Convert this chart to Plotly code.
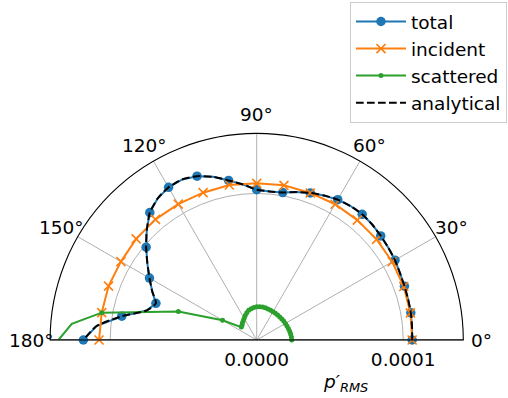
import math
import plotly.graph_objects as go

# Polar angles (degrees) and pressure amplitudes (Pa)
theta_fine = [0, 5, 10, 15, 20, 25, 30, 35, 40, 45, 50, 55, 60, 65, 70, 75, 80, 85, 90,
              95, 100, 105, 110, 115, 120, 125, 130, 135, 140, 145, 150, 155, 160, 165,
              170, 175, 180]
total = [1.061, 1.064, 1.068, 1.070, 1.073, 1.079, 1.090, 1.097, 1.105, 1.115, 1.120,
         1.116, 1.106, 1.088, 1.068, 1.045, 1.022, 1.018, 1.026, 1.065, 1.106, 1.153,
         1.190, 1.208, 1.203, 1.179, 1.135, 1.061, 0.985, 0.911, 0.845, 0.787, 0.732,
         0.778, 0.935, 1.097, 1.183]
analytical = [1.061, 1.064, 1.068, 1.070, 1.073, 1.079, 1.090, 1.097, 1.105, 1.115, 1.120,
              1.116, 1.106, 1.088, 1.068, 1.045, 1.022, 1.018, 1.026, 1.065, 1.106, 1.153,
              1.190, 1.208, 1.203, 1.179, 1.135, 1.061, 0.985, 0.911, 0.845, 0.787, 0.732,
              0.778, 0.935, 1.097, 1.183]

theta_coarse = [0, 10, 20, 30, 40, 50, 60, 70, 80, 90, 100, 110, 120, 130, 140, 150,
                160, 170, 180]
incident = [1.061, 1.065, 1.068, 1.068, 1.068, 1.068, 1.070, 1.068, 1.072, 1.069, 1.074,
            1.070, 1.071, 1.075, 1.074, 1.070, 1.076, 1.074, 1.076]

theta_scat = [0, 5, 10, 15, 20, 25, 30, 35, 40, 45, 50, 55, 60, 65, 70, 75, 80, 85, 90,
              95, 100, 105, 110, 115, 120, 125, 130, 135, 140, 150, 160, 170, 175, 180]
scattered = [0.239, 0.238, 0.235, 0.233, 0.230, 0.228, 0.226, 0.225, 0.224, 0.223, 0.222,
             0.222, 0.223, 0.224, 0.225, 0.227, 0.228, 0.228, 0.227, 0.222, 0.216, 0.210,
             0.198, 0.185, 0.171, 0.160, 0.152, 0.142, 0.137, 0.269, 0.569, 1.074, 1.267,
             1.353]
scat_marked = [True] * 32 + [False, False]

SCALE = 1e-4
R_MAX = 1.41e-4
radial_ticks = [0.0, 1e-4]
radial_labels = ["0.0000", "0.0001"]
angle_ticks = [0, 30, 60, 90, 120, 150, 180]

FONT = "DejaVu Sans"
FS = 18.5
BLUE, ORANGE, GREEN = "#1f77b4", "#ff7f0e", "#2ca02c"
CLEAR = "rgba(0,0,0,0)"

fig = go.Figure()

# straight edge of the half-disc
fig.add_trace(go.Scatterpolar(r=[R_MAX, 0, R_MAX], theta=[180, 180, 0], mode="lines",
                              line=dict(color="black", width=1.1), showlegend=False,
                              hoverinfo="skip"))

fig.add_trace(go.Scatterpolar(
    r=[v * SCALE for v in total], theta=theta_fine, mode="lines+markers", name="total",
    line=dict(color=BLUE, width=2),
    marker=dict(symbol="circle", size=9.5,
                color=[BLUE if t % 10 == 0 else CLEAR for t in theta_fine], line=dict(width=0)),
    legendgroup="a"))

fig.add_trace(go.Scatterpolar(
    r=[v * SCALE for v in incident], theta=theta_coarse, mode="lines+markers", name="incident",
    line=dict(color=ORANGE, width=2),
    marker=dict(symbol="x-thin", size=9, color=ORANGE, line=dict(color=ORANGE, width=1.6)),
    legendgroup="b"))

fig.add_trace(go.Scatterpolar(
    r=[v * SCALE for v in scattered], theta=theta_scat, mode="lines+markers", name="scattered",
    line=dict(color=GREEN, width=2),
    marker=dict(symbol="circle", size=5,
                color=[GREEN if m else CLEAR for m in scat_marked], line=dict(width=0)),
    legendgroup="c"))

fig.add_trace(go.Scatterpolar(
    r=[v * SCALE for v in analytical], theta=theta_fine, mode="lines", name="analytical",
    line=dict(color="black", width=2, dash="7.7px,3.3px", shape="spline", smoothing=0.6),
    legendgroup="d"))

cx, cy, rad = 256.7, 340.0, 206.6
W, H = 508, 398
label_radius = rad + 18.5

# angle labels centred on a ring just outside the rim
annotations = []
for a in angle_ticks:
    px = cx + label_radius * math.cos(math.radians(a))
    py = cy - label_radius * math.sin(math.radians(a))
    annotations.append(dict(text=f"{a}°", x=px / W, y=(H - py) / H, xref="paper", yref="paper",
                            showarrow=False, xanchor="center", yanchor="middle",
                            font=dict(family=FONT, size=FS)))
annotations.append(dict(text="<i>p′</i><sub><i>RMS</i></sub>", x=345 / W, y=(H - 383) / H,
                        xref="paper", yref="paper", showarrow=False, xanchor="center",
                        yanchor="middle", font=dict(family=FONT, size=FS)))

fig.update_layout(
    width=W, height=H,
    margin=dict(l=0, r=0, t=0, b=0),
    paper_bgcolor="white",
    font=dict(family=FONT, size=FS, color="black"),
    polar=dict(
        domain=dict(x=[(cx - rad) / W, (cx + rad) / W], y=[(H - cy) / H, (H - cy + rad) / H]),
        sector=[0, 180],
        bgcolor="white",
        radialaxis=dict(range=[0, R_MAX], tickvals=radial_ticks, ticktext=radial_labels,
                        angle=0, side="clockwise", showline=False,
                        ticks="outside", ticklen=3, tickcolor=CLEAR,
                        gridcolor="#b0b0b0", gridwidth=0.8,
                        tickfont=dict(family=FONT, size=FS, color="black")),
        angularaxis=dict(tickvals=angle_ticks, showticklabels=False,
                         showline=True, linecolor="black", linewidth=1.1, ticks="",
                         gridcolor="#b0b0b0", gridwidth=0.8),
    ),
    legend=dict(x=0.998, y=0.995, xanchor="right", yanchor="top",
                bgcolor="rgba(255,255,255,0.8)", bordercolor="#cccccc", borderwidth=1,
                font=dict(family=FONT, size=FS), traceorder="grouped", tracegroupgap=0,
                itemwidth=50),
    annotations=annotations,
)

fig.write_html("out.html")
